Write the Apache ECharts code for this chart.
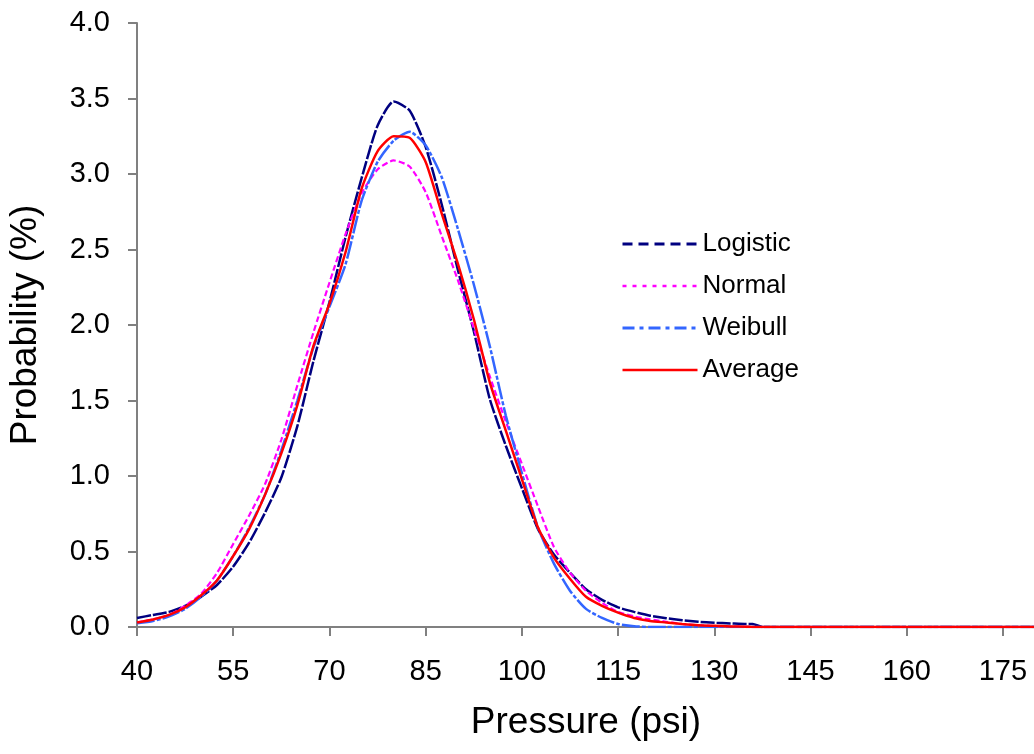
<!DOCTYPE html>
<html>
<head>
<meta charset="utf-8">
<script src="https://cdn.jsdelivr.net/npm/echarts@6/dist/echarts.min.js"></script>
<style>html,body{margin:0;padding:0;background:#fff}#c{width:1034px;height:754px}</style>
</head>
<body>
<div id="c"></div>
<script>
var pressure = [40,42.5,45,47.5,50,52.5,55,57.5,60,62.5,65,67.5,70,72.5,75,77.5,80,82.5,85,87.5,90,92.5,95,97.5,100,102.5,105,107.5,110,112.5,115,117.5,120,122.5,125,127.5,130,132.5,135,136,137.5,140,150,160,170,180];
var logistic = [0.06,0.08,0.10,0.14,0.20,0.28,0.40,0.56,0.76,0.99,1.33,1.76,2.15,2.58,2.97,3.32,3.48,3.42,3.18,2.80,2.37,1.96,1.51,1.20,0.92,0.65,0.48,0.36,0.25,0.18,0.13,0.10,0.075,0.058,0.045,0.035,0.028,0.024,0.02,0.02,0,0,0,0,0,0];
var normal = [0.03,0.05,0.08,0.14,0.22,0.36,0.55,0.74,0.95,1.24,1.60,1.95,2.28,2.60,2.87,3.03,3.09,3.05,2.88,2.59,2.30,1.98,1.66,1.36,1.08,0.80,0.53,0.36,0.24,0.16,0.10,0.07,0.05,0.035,0.02,0.012,0.006,0.003,0.001,0,0,0,0,0,0,0];
var weibull = [0.025,0.04,0.07,0.12,0.20,0.31,0.47,0.66,0.88,1.17,1.50,1.85,2.12,2.40,2.82,3.08,3.22,3.28,3.19,2.98,2.64,2.27,1.86,1.40,1.02,0.66,0.42,0.24,0.12,0.06,0.02,0.005,0,0,0,0,0,0,0,0,0,0,0,0,0,0];
var average = [0.03,0.05,0.08,0.13,0.21,0.31,0.47,0.65,0.88,1.15,1.47,1.86,2.14,2.48,2.90,3.15,3.25,3.24,3.08,2.74,2.41,2.04,1.62,1.30,0.98,0.66,0.46,0.32,0.20,0.14,0.095,0.06,0.04,0.03,0.02,0.012,0.008,0.004,0.002,0,0,0,0,0,0,0];
var seriesNames = ['Logistic','Normal','Weibull','Average'];
var xTitle = 'Pressure (psi)';
var yTitle = 'Probability (%)';

function pairs(ys){ return pressure.map(function(x,i){ return [x, ys[i]]; }); }
var FONT = 'Liberation Sans, Arial, sans-serif';
var chart = echarts.init(document.getElementById('c'));
var axisLineStyle = {color:'#808080', width:2};
var hiddenSym = {color:'rgba(0,0,0,0)', borderColor:'rgba(0,0,0,0)', borderWidth:0, opacity:0};
chart.setOption({
  animation:false,
  backgroundColor:'#ffffff',
  grid:{left:137, top:23, width:898, height:604, containLabel:false, outerBoundsMode:'none'},
  legend:{
    show:true, type:'plain',
    orient:'vertical', left:621, top:231, right:'auto', bottom:'auto',
    padding:0, itemWidth:75, itemHeight:14, itemGap:16,
    itemStyle:hiddenSym,
    textStyle:{fontFamily:FONT, fontSize:26, color:'#000', lineHeight:26},
    data:[
      {name:seriesNames[0], itemStyle:hiddenSym, lineStyle:{color:'#000080', width:3, type:[10,6]}},
      {name:seriesNames[1], itemStyle:hiddenSym, lineStyle:{color:'#FF00FF', width:2.5, type:[4,6]}},
      {name:seriesNames[2], itemStyle:hiddenSym, lineStyle:{color:'#3366FF', width:3, type:[12,5,4,5]}},
      {name:seriesNames[3], itemStyle:hiddenSym, lineStyle:{color:'#FF0000', width:2.5, type:'solid'}}
    ]
  },
  xAxis:{
    type:'value', min:40, max:180, interval:15,
    name:xTitle, nameLocation:'middle', nameGap:77,
    nameTextStyle:{fontFamily:FONT, fontSize:37, color:'#000'},
    axisLine:{show:true, onZero:false, lineStyle:axisLineStyle},
    axisTick:{show:true, inside:false, length:9, lineStyle:{color:'#808080', width:2}},
    axisLabel:{fontFamily:FONT, fontSize:29, color:'#000', margin:30, showMaxLabel:false},
    splitLine:{show:false}
  },
  yAxis:{
    type:'value', min:0, max:4, interval:0.5,
    name:yTitle, nameLocation:'middle', nameGap:93,
    nameTextStyle:{fontFamily:FONT, fontSize:37, color:'#000'},
    axisLine:{show:true, lineStyle:axisLineStyle},
    axisTick:{show:true, inside:false, length:9, lineStyle:{color:'#808080', width:2}},
    axisLabel:{fontFamily:FONT, fontSize:29, color:'#000', margin:27, formatter:function(v){return v.toFixed(1);}},
    splitLine:{show:false}
  },
  series:[
    {name:seriesNames[0], type:'line', symbol:'none', smooth:0.2, data:pairs(logistic), lineStyle:{color:'#000080', width:2.5, type:[14,2]}, itemStyle:{color:'#000080'}},
    {name:seriesNames[1], type:'line', symbol:'none', smooth:0.2, data:pairs(normal), lineStyle:{color:'#FF00FF', width:2.2, type:[6,3]}, itemStyle:{color:'#FF00FF'}},
    {name:seriesNames[2], type:'line', symbol:'none', smooth:0.2, data:pairs(weibull), lineStyle:{color:'#3366FF', width:2.5, type:[18,2,4,2]}, itemStyle:{color:'#3366FF'}},
    {name:seriesNames[3], type:'line', symbol:'none', smooth:0.2, data:pairs(average), lineStyle:{color:'#FF0000', width:2.5}, itemStyle:{color:'#FF0000'}}
  ]
});
</script>
</body>
</html>
